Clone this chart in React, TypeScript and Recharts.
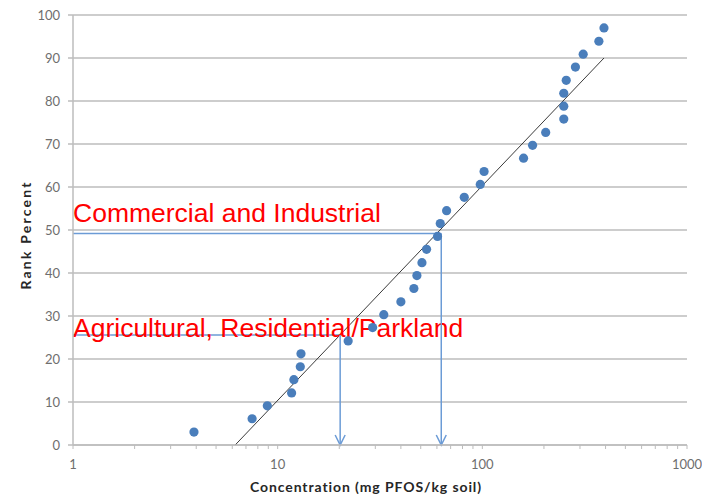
import {
  CartesianGrid,
  ReferenceLine,
  Scatter,
  ScatterChart,
  XAxis,
  YAxis,
} from "recharts";

// PFOS soil samples: concentration vs cumulative rank
const concentration = [
  3.9, 7.5, 8.9, 11.7, 12.0, 12.9, 13.0, 22.1, 29.1, 33.0, 40.0, 46.3, 47.9,
  50.7, 53.4, 60.4, 62.3, 66.9, 81.6, 97.7, 102, 159, 176, 204, 250, 250, 250,
  257, 285, 311, 371, 393,
];
const rankPercent = [
  3.0, 6.1, 9.1, 12.1, 15.2, 18.2, 21.2, 24.2, 27.3, 30.3, 33.3, 36.4, 39.4,
  42.4, 45.5, 48.5, 51.5, 54.5, 57.6, 60.6, 63.6, 66.7, 69.7, 72.7, 75.8, 78.8,
  81.8, 84.8, 87.9, 90.9, 93.9, 97.0,
];

// fitted log-normal line ends
const fitLine = [
  { x: 6.2, y: 0 },
  { x: 393, y: 90 },
];

// guideline values
const guides = [
  { label: "Commercial and Industrial", x: 63, y: 49.2, textDy: -11 },
  { label: "Agricultural, Residential/Parkland", x: 20.2, y: 25.6, textDy: 2 },
];

const yTicks = [0, 10, 20, 30, 40, 50, 60, 70, 80, 90, 100];
const decades = [1, 10, 100, 1000];
const minorSteps = [2, 3, 4, 5, 6, 7, 8, 9];
const xTicks = decades.flatMap((d, i) =>
  i < decades.length - 1 ? [d, ...minorSteps.map((m) => m * d)] : [d],
);

const data = concentration.map((x, i) => ({ x, y: rankPercent[i] }));

const GRID = "#bcbcbc";
const AXIS_TEXT = "#6e6e6e";
const GUIDE = "#6b9bd6";

function XTick({ x, y, payload }: any) {
  const v = payload.value;
  const major = decades.includes(v);
  return (
    <g>
      <line x1={x} x2={x} y1={y} y2={y + 4} stroke={GRID} strokeWidth={1} />
      {major && (
        <text
          x={x}
          y={y + 24}
          textAnchor="middle"
          fill={AXIS_TEXT}
          fontSize={13}
          fontFamily="Lato"
        >
          {v}
        </text>
      )}
    </g>
  );
}

function ArrowDown(props: any) {
  const { x1, y1, x2, y2 } = props;
  return (
    <g>
      <line x1={x1} y1={y1} x2={x2} y2={y2} stroke={GUIDE} strokeWidth={1.5} />
      <polyline
        points={`${x2 - 5},${y2 - 10} ${x2},${y2} ${x2 + 5},${y2 - 10}`}
        fill="none"
        stroke={GUIDE}
        strokeWidth={1.5}
      />
    </g>
  );
}

const guideLabel = (text: string, dy: number) => (props: any) => {
  const { viewBox } = props;
  return (
    <text
      x={viewBox.x}
      y={viewBox.y + dy}
      fill="#ff0000"
      fontSize={26.5}
      fontFamily="Liberation Sans"
    >
      {text}
    </text>
  );
};

export default function App() {
  return (
    <div style={{ position: "absolute", left: 0, top: 0, background: "#fff" }}>
      <ScatterChart
        width={702}
        height={494}
        margin={{ top: 15, right: 15, bottom: 0, left: 0 }}
      >
        <CartesianGrid vertical={false} stroke={GRID} strokeWidth={1.5} />
        <XAxis
          type="number"
          dataKey="x"
          scale="log"
          domain={[1, 1000]}
          allowDataOverflow
          ticks={xTicks}
          interval={0}
          height={49}
          tickSize={0}
          tickMargin={0}
          tickLine={false}
          tick={<XTick />}
          axisLine={{ stroke: GRID, strokeWidth: 1.5 }}
          label={(props: any) => {
            const vb = props.viewBox;
            return (
              <text
                x={vb.x + vb.width / 2 - 14}
                y={vb.y + 47}
                textAnchor="middle"
                fill="#262626"
                fontSize={14}
                fontWeight="bold"
                letterSpacing={0.9}
                fontFamily="Lato"
              >
                Concentration (mg PFOS/kg soil)
              </text>
            );
          }}
        />
        <YAxis
          type="number"
          dataKey="y"
          domain={[0, 100]}
          ticks={yTicks}
          width={73}
          tickSize={5}
          tickMargin={8}
          tick={{ fill: AXIS_TEXT, fontSize: 13, fontFamily: "Lato" }}
          tickLine={{ stroke: GRID, strokeWidth: 1.5 }}
          axisLine={{ stroke: GRID, strokeWidth: 1.5 }}
          label={(props: any) => {
            const vb = props.viewBox;
            const cy = vb.y + vb.height / 2 + 5;
            return (
              <text
                x={25}
                y={cy}
                transform={`rotate(-90, 25, ${cy})`}
                textAnchor="middle"
                dominantBaseline="central"
                fill="#262626"
                fontSize={14}
                fontWeight="bold"
                letterSpacing={2.2}
                fontFamily="Lato"
              >
                Rank Percent
              </text>
            );
          }}
        />
        <ReferenceLine
          segment={fitLine}
          stroke="#3a3a3a"
          strokeWidth={1}
          ifOverflow="visible"
        />
        {guides.map((g) => (
          <ReferenceLine
            key={g.label + "-h"}
            segment={[
              { x: 1, y: g.y },
              { x: g.x, y: g.y },
            ]}
            stroke={GUIDE}
            strokeWidth={1.5}
            ifOverflow="visible"
            label={guideLabel(g.label, g.textDy)}
          />
        ))}
        {guides.map((g) => (
          <ReferenceLine
            key={g.label + "-v"}
            segment={[
              { x: g.x, y: g.y },
              { x: g.x, y: 0 },
            ]}
            ifOverflow="visible"
            shape={ArrowDown}
          />
        ))}
        <Scatter
          data={data}
          fill="#4a7ebb"
          isAnimationActive={false}
          shape={(p: any) => <circle cx={p.cx} cy={p.cy} r={4.6} fill="#4a7ebb" />}
        />
      </ScatterChart>
    </div>
  );
}
